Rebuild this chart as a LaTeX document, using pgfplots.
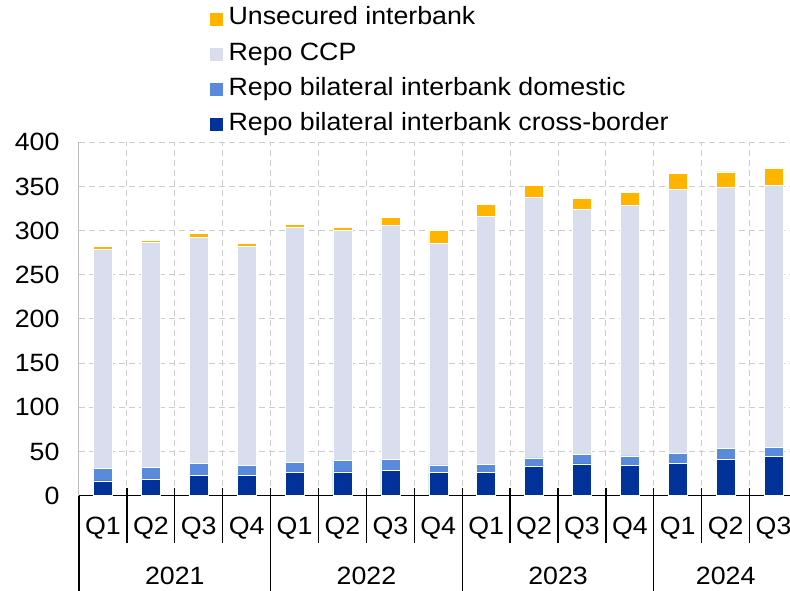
\documentclass[border=0pt]{standalone}
\usepackage{pgfplots}
\usepackage{pgfplotstable}
\pgfplotsset{compat=1.18}
\usepackage{fontspec}
\setmainfont{Liberation Sans}[FakeStretch=1.07]
\definecolor{cb}{HTML}{003299}
\definecolor{dom}{HTML}{5A8ADB}
\definecolor{ccp}{HTML}{D9DEEF}
\definecolor{uns}{HTML}{FFB400}
\definecolor{gridc}{HTML}{CDCDCD}

\pgfplotstableread{
x cb dom ccp uns
0 16.9 14.4 247.9 2.8
1 18.4 13.6 254.8 2.6
2 22.9 13.6 256.3 4.2
3 22.9 11.3 248.4 3.4
4 26.7 10.9 266.5 3.4
5 27.1 12.8 260.8 3.0
6 28.6 12.8 264.2 9.4
7 26.3 8.7 251.0 14.3
8 26.7 8.7 281.1 13.5
9 33.9 9.0 294.7 13.5
10 36.1 10.6 277.3 12.8
11 34.2 11.0 283.3 15.1
12 36.5 11.3 298.8 18.4
13 41.0 12.9 295.0 17.7
14 44.4 10.1 296.6 19.2
}\data

\newcommand{\fs}{\fontsize{25}{30}\selectfont}

\begin{document}
\begin{tikzpicture}
\useasboundingbox (-79pt,-95.3pt) rectangle (711pt,495.7pt);
\begin{axis}[
  scale only axis, width=711pt, height=353.4pt,
  ybar stacked, bar width=19pt,
  xmin=-0.5, xmax=14.343, ymin=0, ymax=400,
  xtick={0,...,14},
  xticklabels={Q1,Q2,Q3,Q4,Q1,Q2,Q3,Q4,Q1,Q2,Q3,Q4,Q1,Q2,Q3},
  ytick={0,50,...,400},
  minor xtick={0.5,1.5,...,13.5},
  xmajorgrids=false, xminorgrids=true, ymajorgrids=true,
  major grid style={gridc, dash pattern=on 6pt off 4pt, line width=1pt},
  minor grid style={gridc, dash pattern=on 6pt off 4pt, line width=1pt},
  major tick length=0pt, minor tick length=0pt,
  axis x line*=bottom, axis y line*=left,
  x axis line style={black, line width=1.3pt, -},
  y axis line style={gridc!80!gray, line width=1pt, -},
  tick label style={font=\fs, /pgf/number format/assume math mode=true},
  xticklabel style={anchor=center, yshift=-32pt},
  yticklabel style={anchor=east, xshift=-16pt},
  clip=false,
  reverse legend,
  legend style={at={(axis description cs:0.1828,1.391)}, anchor=north west,
    draw=none, fill=none, font=\fs, inner sep=0pt, row sep=7.2pt,
    nodes={inner sep=2pt, text height=18.5pt, text depth=5.5pt}},
  legend cell align=left,
  legend image code/.code={\fill[#1] (0pt,-7.5pt) rectangle (14pt,6.5pt); \path (17pt,0pt);},
  every axis plot/.append style={draw=white, line width=0.4pt},
]
\addplot[fill=cb] table[x=x, y=cb] {\data};
\addplot[fill=dom] table[x=x, y=dom] {\data};
\addplot[fill=ccp] table[x=x, y=ccp] {\data};
\addplot[fill=uns] table[x=x, y=uns] {\data};
\legend{Repo bilateral interbank cross-border, Repo bilateral interbank domestic, Repo CCP, Unsecured interbank}

\pgfplotsinvokeforeach{0.5,1.5,2.5,4.5,5.5,6.5,8.5,9.5,10.5,12.5,13.5}{
  \draw[black, line width=1.3pt] ([yshift=8pt]axis cs:#1,0) -- ([yshift=-47pt]axis cs:#1,0);
}
\pgfplotsinvokeforeach{3.5,7.5,11.5}{
  \draw[black, line width=1.3pt] ([yshift=8pt]axis cs:#1,0) -- ([yshift=-96pt]axis cs:#1,0);
}
\draw[black, line width=1.3pt] (axis cs:-0.5,0) -- ([yshift=-96pt]axis cs:-0.5,0);
\node[font=\fs] at ([yshift=-80.3pt]axis cs:1.5,0) {2021};
\node[font=\fs] at ([yshift=-80.3pt]axis cs:5.5,0) {2022};
\node[font=\fs] at ([yshift=-80.3pt]axis cs:9.5,0) {2023};
\node[font=\fs] at ([yshift=-80.3pt]axis cs:13,0) {2024};
\end{axis}
\end{tikzpicture}
\end{document}
